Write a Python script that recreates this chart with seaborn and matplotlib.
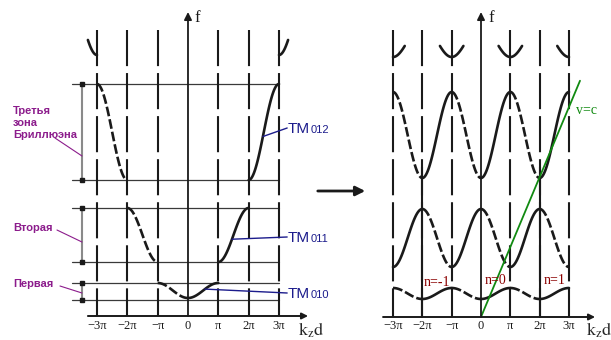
import numpy as np
import seaborn as sns
import matplotlib.pyplot as plt
from matplotlib.patches import FancyArrowPatch

sns.set_theme(style='white')
plt.rcParams['lines.scale_dashes'] = False
plt.rcParams['font.family'] = ['Liberation Sans', 'DejaVu Sans']
plt.rcParams['mathtext.fontset'] = 'stix'

# k_z d in units of pi
tick_pos = [-3, -2, -1, 0, 1, 2, 3]
tick_labels = ['−3π', '−2π', '−π', '0', 'π', '2π', '3π']

# left panel: extended zone scheme, band edges (f, arbitrary units)
left_lo = [1.8, 5.4, 13.6, 26.1]
left_hi = [3.3, 10.8, 23.2, 33.4]
left_extent = [1, 2, 3, 3.3]
zone_top = [3.3, 10.8, 23.2]
zone_bottom = [1.6, 5.4, 13.6]
zone_names = ['Первая', 'Вторая', 'Третья\nзона\nБриллюэна']
zone_name_f = [3.2, 8.8, 19.3]
mode_names = ['010', '011', '012']
mode_pick_x = [0.56, 1.45, 2.47]
mode_label_f = [2.3, 7.9, 18.8]

# right panel: periodic (repeated zone) scheme
right_lo = [1.8, 5.0, 13.9, 26.0]
right_hi = [2.9, 10.8, 22.5, 29.2]
right_min_even = [True, False, True, False]
band4_half = 0.4
light_slope = 7.0
light_end = 3.375
harmonics = ['n=-1', 'n=0', 'n=1']
harmonic_x = [-1.5, 0.5, 2.5]
harmonic_f = [3.5, 3.7, 3.7]

PURPLE = '#8c1c8c'
NAVY = '#1c1c8c'
DARKRED = '#8b0000'
GREEN = '#118a11'
CURVE_DASH = (0, (7, 2.2))
GRID_DASH = (0, (26, 5))


def left_band(i, x):
    ph = np.abs(x) - i
    return left_lo[i] + (left_hi[i] - left_lo[i]) * (1 - np.cos(np.pi * ph)) / 2


def right_band(i, x):
    c = -np.cos(np.pi * x) if right_min_even[i] else np.cos(np.pi * x)
    return right_lo[i] + (right_hi[i] - right_lo[i]) * (1 + c) / 2


def curve(ax, x, f, dashed):
    sns.lineplot(x=x, y=f, ax=ax, color='k', lw=1.9, sort=False, estimator=None,
                 linestyle=CURVE_DASH if dashed else '-')


def frame(ax, top, xmin, xmax, tick_f, kd_x, kd_f, f_x, f_top):
    for p in tick_pos:
        if p == 0:
            continue
        ax.plot([p, p], [top, 0], color='k', lw=1.5, linestyle=GRID_DASH)
    ax.annotate('', xy=(0, f_top), xytext=(0, 0),
                arrowprops=dict(arrowstyle='-|>', lw=1.3, color='k', mutation_scale=11,
                                shrinkA=0, shrinkB=0))
    ax.annotate('', xy=(xmax, 0), xytext=(xmin, 0),
                arrowprops=dict(arrowstyle='-|>', lw=1.4, color='k', mutation_scale=9,
                                shrinkA=0, shrinkB=0))
    for p, t in zip(tick_pos, tick_labels):
        ax.text(p, tick_f, t, ha='center', va='center', fontsize=9,
                family='Liberation Serif', color='k')
    ax.text(kd_x, kd_f, r'$\mathrm{k_z d}$', ha='center', va='center', fontsize=13)
    ax.text(f_x, f_top - 0.6, 'f', ha='center', va='center', fontsize=12,
            family='Liberation Serif', color='k')


fig = plt.figure(figsize=(6.11, 3.40), dpi=100)
axl = fig.add_axes([0, 0, 330 / 611, 1])
axr = fig.add_axes([330 / 611, 0, 281 / 611, 1])
axl.set_xlim(-6.198, 4.682)
axl.set_ylim(-2.4, 31.6)
axr.set_xlim(-5.148, 4.432)
axr.set_ylim(-2.3, 31.7)
for ax in (axl, axr):
    ax.set_axis_off()

# ---- left panel ----
for f in zone_top + zone_bottom:
    axl.plot([-3.82, 3.0], [f, f], color='#3a3a3a', lw=0.9)
for lo, hi in zip(zone_bottom, zone_top):
    axl.plot([-3.495, -3.495], [lo, hi], color='#8a8a8a', lw=1.5)
    axl.plot([-3.495, -3.495], [lo, hi], 's', color='k', ms=3.2, lw=0)

frame(axl, 28.6, -3.3, 3.96, -1.0, 4.05, -1.4, 0.30, 30.4)

for i in range(4):
    xs = np.linspace(i, left_extent[i], 60)
    fs = left_band(i, xs)
    curve(axl, xs, fs, False)
    curve(axl, -xs[::-1], fs[::-1], i < 3)

# zone labels and leaders
leaders = [((-4.22, 3.0), (-3.495, 2.3)),
           ((-4.32, 8.6), (-3.495, 7.4)),
           ((-4.385, 17.8), (-3.495, 16.0))]
for name, fy, (a, b) in zip(zone_names, zone_name_f, leaders):
    axl.text(-5.77, fy, name, ha='left', va='center', fontsize=8, fontweight='bold',
             color=PURPLE, linespacing=1.3)
    axl.plot([a[0], b[0]], [a[1], b[1]], color=PURPLE, lw=0.8)

for i, (m, px, lf) in enumerate(zip(mode_names, mode_pick_x, mode_label_f)):
    pf = left_band(i, np.array(px))
    axl.plot([px, 3.27], [pf, lf], color=NAVY, lw=1.0)
    axl.text(3.30, lf - 0.5, 'TM', ha='left', va='baseline', fontsize=11, color=NAVY)
    axl.annotate(m, xy=(3.30, lf - 0.5), xytext=(16, 0), textcoords='offset points',
                 ha='left', va='baseline', fontsize=8, color=NAVY)

# ---- right panel ----
frame(axr, 28.7, -3.34, 3.89, -0.9, 4.02, -1.3, 0.34, 30.5)
for p in (-2, 2):
    axr.plot([p, p], [0, 15], color='k', lw=1.5)

for i in range(3):
    for k in range(-3, 3):
        xs = np.linspace(k, k + 1, 40)
        fs = right_band(i, xs)
        rising = fs[-1] > fs[0]
        curve(axr, xs, fs, not rising)
for m in (-3, -1, 1, 3):
    xs = np.linspace(max(m - band4_half, -3), min(m + band4_half, 3), 40)
    curve(axr, xs, right_band(3, xs), False)

lx = np.array([0, light_end])
sns.lineplot(x=lx, y=light_slope * lx, ax=axr, color=GREEN, lw=1.3)
axr.text(3.61, 20.7, 'v=c', ha='center', va='center', fontsize=10,
         family='Liberation Serif', color=GREEN)
for t, hx, hf in zip(harmonics, harmonic_x, harmonic_f):
    axr.text(hx, hf, t, ha='center', va='center', fontsize=10,
             family='Liberation Serif', color=DARKRED)

fig.add_artist(FancyArrowPatch((315 / 611, 1 - 191 / 340), (368 / 611, 1 - 191 / 340),
                               transform=fig.transFigure, arrowstyle='-|>',
                               mutation_scale=14, lw=2, color='k'))

fig.savefig('out.png', dpi=100, facecolor='white')
